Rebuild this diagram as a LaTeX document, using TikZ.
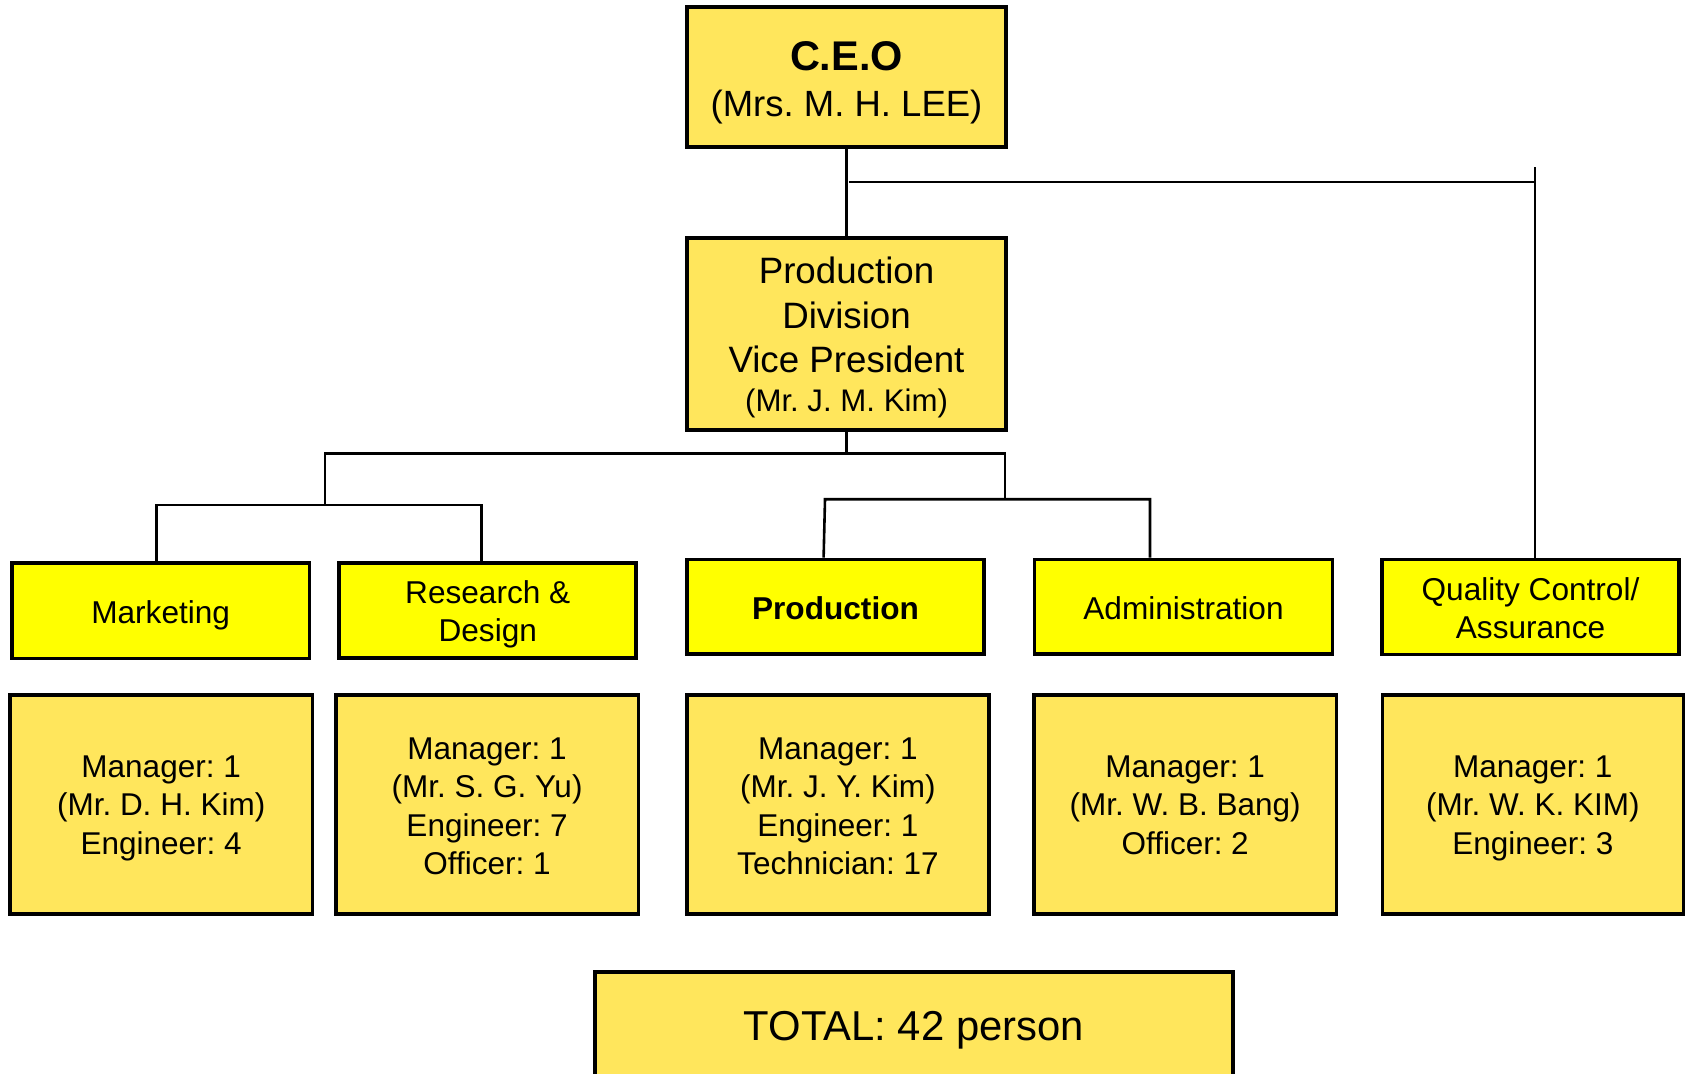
\documentclass[tikz,border=0pt]{standalone}
\usepackage{fontspec}
\setmainfont{Liberation Sans}
\usetikzlibrary{calc}
\definecolor{lightyel}{RGB}{255,230,92}
\definecolor{brightyel}{RGB}{255,255,0}
\newcommand{\fsz}[2]{\fontsize{#1}{#2}\selectfont}
\newcommand{\stk}[1]{\begin{tabular}[t]{@{}c@{}}#1\end{tabular}}
\frenchspacing
\begin{document}
\begin{tikzpicture}[x=0.5pt,y=-0.5pt,
  box/.style={draw=black, line width=1.8pt, inner sep=0pt, text height=0pt, text depth=0pt},
  topbox/.style={box, fill=lightyel},
  midbox/.style={box, fill=brightyel, font=\fsz{15.8}{19.2}},
  lowbox/.style={box, fill=lightyel, font=\fsz{15.75}{19.25}, minimum height=109.5pt},
  conn/.style={line width=1.3pt}]
\useasboundingbox (0,0) rectangle (1685,1074);

% top level
\node[topbox, font=\fsz{18.25}{23}, minimum width=159.5pt, minimum height=70pt, text depth=6.3pt] (ceo) at (846.5,77)
  {\stk{{\fsz{20.75}{23}\bfseries C.E.O}\\(Mrs. M. H. LEE)}};
\node[topbox, font=\fsz{18.35}{22.25}, minimum width=159.5pt, minimum height=96pt, text depth=50pt] (vp) at (846.5,334)
  {\stk{Production\\Division\\Vice President\\[-2.75pt]{\fsz{15.6}{19}(Mr. J. M. Kim)}}};

% departments
\node[midbox, minimum width=148.7pt, minimum height=47.65pt, text height=12.6pt] (mkt) at (160.7,610.7) {Marketing};
\node[midbox, minimum width=148.5pt, minimum height=47.5pt, text depth=7.4pt] (rd) at (487.75,610.5) {\stk{Research \&\\Design}};
\node[midbox, minimum width=148.75pt, minimum height=47.35pt, text height=12.6pt] (prod) at (835.5,606.7) {\bfseries Production};
\node[midbox, minimum width=148.85pt, minimum height=47.35pt, text height=12.6pt] (adm) at (1183.5,606.7) {Administration};
\node[midbox, minimum width=148.5pt, minimum height=47.5pt, text depth=6.8pt] (qc) at (1530.5,606.8) {\stk{Quality Control/\\Assurance}};

% staff boxes
\node[lowbox, minimum width=151.35pt, text depth=27.2pt] (smkt) at (161.15,804.5) {\stk{Manager: 1\\(Mr. D. H. Kim)\\Engineer: 4}};
\node[lowbox, minimum width=151.35pt, text depth=45.5pt] (srd) at (487.05,804.5) {\stk{Manager: 1\\(Mr. S. G. Yu)\\Engineer: 7\\Officer: 1}};
\node[lowbox, minimum width=151.1pt, text depth=45.5pt] (sprod) at (837.9,804.5) {\stk{Manager: 1\\(Mr. J. Y. Kim)\\Engineer: 1\\Technician: 17}};
\node[lowbox, minimum width=151.15pt, text depth=27.2pt] (sadm) at (1185.15,804.5) {\stk{Manager: 1\\(Mr. W. B. Bang)\\Officer: 2}};
\node[lowbox, minimum width=150.5pt, text depth=27.2pt] (sqc) at (1532.8,804.5) {\stk{Manager: 1\\(Mr. W. K. KIM)\\Engineer: 3}};

% total
\node[topbox, font=\fsz{20.9}{25}, minimum width=318.85pt, minimum height=64pt, text height=4pt] (tot) at (913.85,1036) {TOTAL: 42 person};

% connectors
\coordinate (qcj) at (1536,182);
\coordinate (qcend) at (1535,167);
\coordinate (jL) at (325,453.3);
\coordinate (jR) at (1005,453.3);
\coordinate (jL2) at (325,505);
\coordinate (mkj) at (156.5,505);
\coordinate (rdj) at (481.5,505);
\coordinate (jR2) at (1005,499.3);
\coordinate (prj) at (825,499.3);
\coordinate (adj) at (1150,499.3);

\draw[conn] (ceo.south) -- (vp.north);
\draw[conn] ([xshift=1.2pt]ceo.south |- qcj) -- (qcj);
\draw[conn] (qc.north -| qcend) -- (qcend);
\draw[conn] (vp.south) -- (vp.south |- jL);
\draw[conn] (jL2) -- (jL) -- (jR) -- (jR2);
\draw[conn] (mkt.north -| mkj) -- (mkj) -- (rdj) -- (rd.north -| rdj);
\draw[conn] ([xshift=-0.7pt]prod.north -| prj) -- (prj) -- (adj) -- (adm.north -| adj);
\end{tikzpicture}
\end{document}
